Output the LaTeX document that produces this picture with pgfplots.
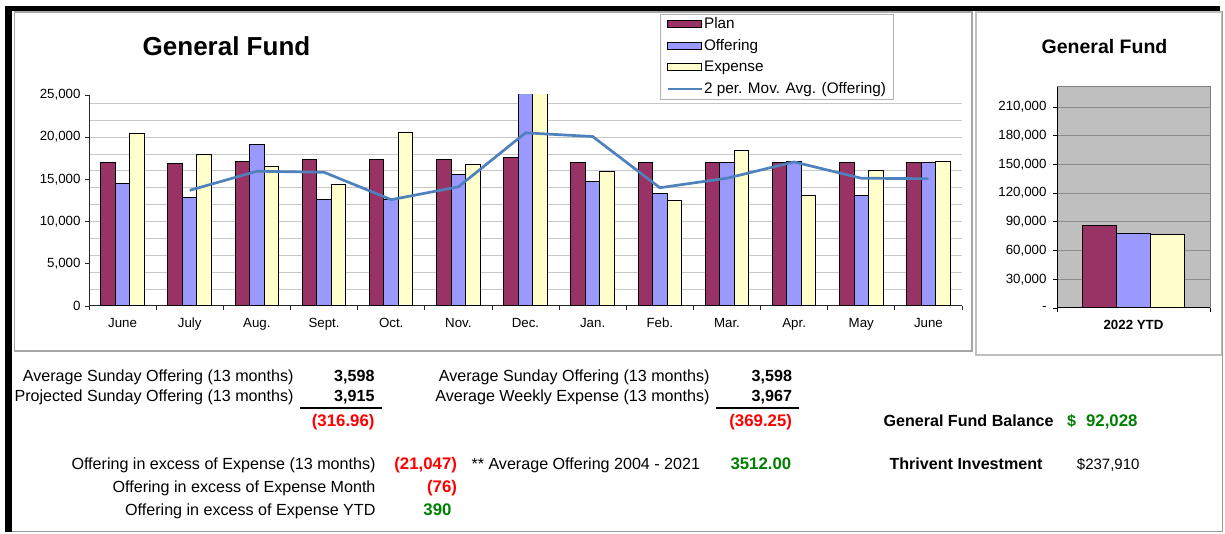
\documentclass[border=0pt]{standalone}
\usepackage{pgfplots}
\usepackage{pgfplotstable}
\pgfplotsset{compat=1.18}
\usepackage{fontspec}
\setmainfont{Liberation Sans}
\definecolor{plan}{RGB}{153,51,102}
\definecolor{offer}{RGB}{153,153,255}
\definecolor{expense}{RGB}{255,255,204}
\definecolor{maline}{RGB}{79,129,189}
\definecolor{myred}{RGB}{255,0,0}
\definecolor{mygreen}{RGB}{0,128,0}
\newcommand{\fs}[1]{\fontsize{#1}{#1}\selectfont}
\pgfplotsset{
  barleg/.style={legend image code/.code={\draw[##1,/tikz/.cd,line width=1pt] (1pt,-3pt) rectangle (35pt,4pt);}},
  lineleg/.style={legend image code/.code={\draw[##1] (1pt,0.5pt) -- (35pt,0.5pt);}},
}

\pgfplotstableread{
x plan offer expense
0 17010 14570 20390
1 16850 12840 17950
2 17130 19090 16500
3 17400 12600 14410
4 17400 12600 20590
5 17400 15630 16730
6 17560 25400 26400
7 17010 14760 15950
8 17010 13270 12480
9 17010 17010 18390
10 17010 17130 13150
11 17010 13150 16060
12 17010 17010 17130
}\gfdata

\pgfplotstableread{
x ma
1 13705
2 15965
3 15845
4 12600
5 14115
6 20515
7 20080
8 14015
9 15140
10 17070
11 15140
12 15080
}\madata

\pgfplotstableread{
x plan offer expense
0 85800 77700 77300
}\ytddata

\begin{document}
\begin{tikzpicture}[x=1pt,y=1pt]
\useasboundingbox (0,0) rectangle (1225,533);
% panels
\draw[black!35, line width=1.5pt] (14.5,521) rectangle (972,182);
\draw[black!25, line width=1.5pt] (976,521) rectangle (1222,178);
\draw[black!40, line width=1pt] (11,2) -- (1222,2) -- (1222,522);
\draw[line width=5pt] (5,524.5) -- (1220,524.5);
\draw[line width=6.5pt] (8.3,527) -- (8.3,1.5);

% titles
\node[anchor=base, font=\bfseries\fs{26}] at (226.5,477.7) {General Fund};
\node[anchor=base, font=\bfseries\fs{19.5}] at (1104.5,479) {General Fund};

\begin{axis}[
  at={(89pt,227pt)}, anchor=south west, scale only axis,
  width=873pt, height=211pt,
  xmin=-0.5, xmax=12.5, ymin=0, ymax=25000,
  enlargelimits=false,
  axis lines*=left,
  axis line style={-, black!85, line width=1pt},
  xtick={-0.5,0.5,...,12.5}, x tick label as interval,
  xticklabels={June,July,Aug.,Sept.,Oct.,Nov.,Dec.,Jan.,Feb.,Mar.,Apr.,May,June},
  xticklabel style={text height=9.5pt, text depth=3pt, yshift=-4pt},
  ytick={0,5000,...,25000},
  minor ytick={0,2000,...,24000}, yminorgrids,
  minor grid style={black!22, line width=1pt},
  tick align=outside, major tick length=4pt, minor tick length=0pt,
  tick style={black!85, line width=0.8pt},
  scaled y ticks=false,
  yticklabel style={/pgf/number format/1000 sep={,}, /pgf/number format/assume math mode=true, xshift=-1pt},
  ticklabel style={font=\fs{13.3}},
  legend style={at={(0.654,1.384)}, anchor=north west, draw=black!30, line width=0.8pt,
    font=\fs{15.3}, inner xsep=6pt, inner ysep=2pt, row sep=4.5pt,
    nodes={inner sep=1pt, text height=11.5pt, text depth=3.5pt}},
  legend cell align=left,
]
\addplot[ybar, bar width=14.5pt, bar shift=-14.5pt, fill=plan, draw=black, line width=1pt, barleg]
  table[x=x, y=plan] {\gfdata};
\addplot[ybar, bar width=14.5pt, bar shift=0pt, fill=offer, draw=black, line width=1pt, barleg]
  table[x=x, y=offer] {\gfdata};
\addplot[ybar, bar width=14.5pt, bar shift=14.5pt, fill=expense, draw=black, line width=1pt, barleg]
  table[x=x, y=expense] {\gfdata};
\addplot[sharp plot, no markers, color=maline, line width=2.7pt, lineleg]
  table[x=x, y=ma] {\madata};
\legend{Plan,Offering,Expense,2 per. Mov. Avg. (Offering)}
\end{axis}

\begin{axis}[
  at={(1057pt,225pt)}, anchor=south west, scale only axis,
  width=153pt, height=221pt,
  xmin=-0.5, xmax=0.5, ymin=0, ymax=231000,
  enlargelimits=false,
  axis lines*=left,
  axis line style={-, black, line width=1pt},
  axis background/.style={fill=black!25, draw=black!50, line width=1pt},
  xtick={-0.5,0.5}, x tick label as interval, xticklabels={2022 YTD},
  xticklabel style={font=\bfseries\fs{13.3}, text height=9.5pt, text depth=3pt, yshift=-4pt},
  scaled y ticks=false,
  ytick={0,30000,...,210000},
  yticklabels={-,{30,000},{60,000},{90,000},{120,000},{150,000},{180,000},{210,000}},
  yticklabel style={font=\fs{13.3}, xshift=-3pt},
  ymajorgrids, major grid style={black!45, line width=1pt},
  tick align=outside, major tick length=4pt,
  tick style={black, line width=0.8pt},
]
\addplot[ybar, bar width=34pt, bar shift=-34pt, fill=plan, draw=black, line width=1pt]
  table[x=x, y=plan] {\ytddata};
\addplot[ybar, bar width=34pt, bar shift=0pt, fill=offer, draw=black, line width=1pt]
  table[x=x, y=offer] {\ytddata};
\addplot[ybar, bar width=34pt, bar shift=34pt, fill=expense, draw=black, line width=1pt]
  table[x=x, y=expense] {\ytddata};
\end{axis}

% bottom text
\begin{scope}[every node/.style={font=\fs{16.1}}]
\node[anchor=base east] at (297,151.5) {Average Sunday Offering (13 months)};
\node[anchor=base east] at (297,132) {Projected Sunday Offering (13 months)};
\node[anchor=base east, font=\bfseries\fs{16.1}] at (378,151.5) {3,598};
\node[anchor=base east, font=\bfseries\fs{16.1}] at (378,132) {3,915};
\draw[line width=2pt] (300,125) -- (382,125);
\node[anchor=base east, font=\bfseries\fs{16.8}, text=myred] at (378,107) {(316.96)};

\node[anchor=base east] at (713,151.5) {Average Sunday Offering (13 months)};
\node[anchor=base east] at (713,132) {Average Weekly Expense (13 months)};
\node[anchor=base east, font=\bfseries\fs{16.1}] at (795.5,151.5) {3,598};
\node[anchor=base east, font=\bfseries\fs{16.1}] at (795.5,132) {3,967};
\draw[line width=2pt] (716,125) -- (799,125);
\node[anchor=base east, font=\bfseries\fs{16.8}, text=myred] at (795.5,107) {(369.25)};

\node[anchor=base west, font=\bfseries\fs{16.1}] at (880,107) {General Fund Balance};
\node[anchor=base west, font=\bfseries\fs{16.1}, text=mygreen] at (1063.5,107) {\$};
\node[anchor=base east, font=\bfseries\fs{16.8}, text=mygreen] at (1141,107) {92,028};

\node[anchor=base east] at (379,63.3) {Offering in excess of Expense (13 months)};
\node[anchor=base east] at (379,40.6) {Offering in excess of Expense Month};
\node[anchor=base east] at (379,18) {Offering in excess of Expense YTD};
\node[anchor=base east, font=\bfseries\fs{16.8}, text=myred] at (460.5,63.3) {(21,047)};
\node[anchor=base east, font=\bfseries\fs{16.8}, text=myred] at (460.5,40.6) {(76)};
\node[anchor=base east, font=\bfseries\fs{16.8}, text=mygreen] at (455,18) {390};
\node[anchor=base west] at (468,63.3) {** Average Offering 2004 - 2021};
\node[anchor=base west, font=\bfseries\fs{16.8}, text=mygreen] at (727,63.3) {3512.00};

\node[anchor=base west, font=\bfseries\fs{16.1}] at (886,63.3) {Thrivent Investment};
\node[anchor=base east, font=\fs{15}] at (1143,63.3) {\$237,910};
\end{scope}
\end{tikzpicture}
\end{document}
